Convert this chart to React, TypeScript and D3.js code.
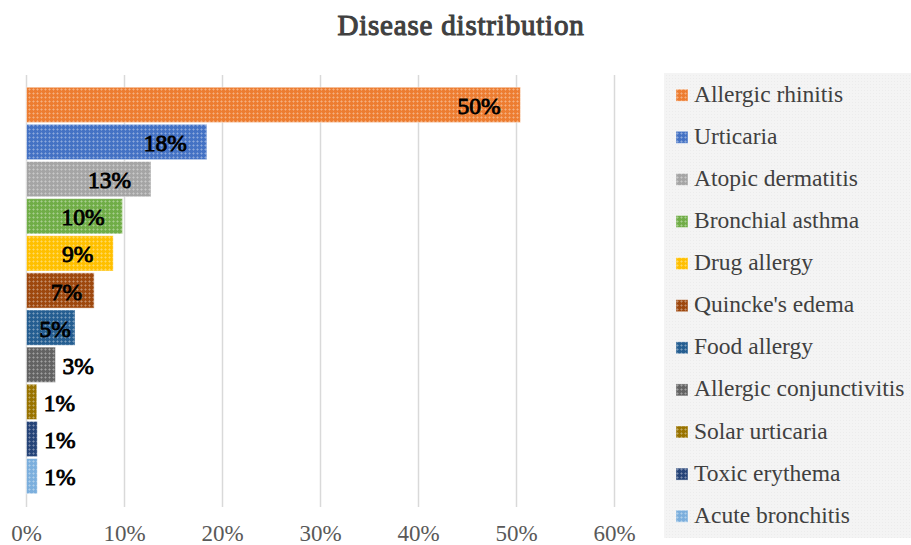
import React from "react";
import * as d3 from "d3";

const categories = [
  "Allergic rhinitis",
  "Urticaria",
  "Atopic dermatitis",
  "Bronchial asthma",
  "Drug allergy",
  "Quincke's edema",
  "Food allergy",
  "Allergic conjunctivitis",
  "Solar urticaria",
  "Toxic erythema",
  "Acute bronchitis",
];
const values = [50.4, 18.4, 12.7, 9.8, 8.85, 6.9, 4.95, 2.95, 1.05, 1.1, 1.1];
const colors = [
  "#ED7D31",
  "#4472C4",
  "#A5A5A5",
  "#70AD47",
  "#FFC000",
  "#9E480E",
  "#255E91",
  "#636363",
  "#997300",
  "#264478",
  "#7CAFDD",
];
const ticks = [0, 10, 20, 30, 40, 50, 60];
const title = "Disease distribution";

const W = 911;
const H = 545;
const FONT = "'Liberation Serif', serif";

export default function App() {
  const x = d3.scaleLinear().domain([0, 60]).range([26.5, 614.5]);
  const y = d3
    .scaleBand<string>()
    .domain(categories)
    .range([86.5, 494.5])
    .paddingInner(0.05)
    .paddingOuter(0.02);
  const gridTop = 75;
  const gridBottom = 507;
  const labelSize = 23.5;
  const legendY0 = 101.7;
  const legendStep = 42.1;

  return (
    <svg
      width={W}
      height={H}
      style={{ position: "absolute", left: 0, top: 0, background: "#fff" }}
      fontFamily={FONT}
    >
      <defs>
        {colors.map((c, i) => (
          <pattern
            key={i}
            id={`pat${i}`}
            width={4}
            height={4}
            patternUnits="userSpaceOnUse"
          >
            <rect width={4} height={4} fill={c} />
            <rect x={1} y={0} width={1} height={3} fill="#fff" opacity={0.22} />
            <rect x={0} y={1} width={3} height={1} fill="#fff" opacity={0.22} />
          </pattern>
        ))}
        <pattern id="legpat" width={3} height={3} patternUnits="userSpaceOnUse">
          <rect width={3} height={3} fill="#f4f4f4" />
          <rect x={0} y={0} width={1} height={1} fill="#ececec" />
        </pattern>
      </defs>
      <rect width={W} height={H} fill="#fff" />
      <text
        x={461}
        y={35}
        textAnchor="middle"
        fontSize={29}
        letterSpacing={0.8}
        fill="#404040"
        stroke="#404040"
        strokeWidth={1.1}
      >
        {title}
      </text>

      {ticks.map((t) => (
        <g key={t}>
          <line
            x1={x(t)}
            x2={x(t)}
            y1={gridTop}
            y2={gridBottom}
            stroke="#d9d9d9"
            strokeWidth={1.5}
          />
          <text
            x={x(t)}
            y={541}
            textAnchor="middle"
            fontSize={23}
            fill="#595959"
          >
            {t}%
          </text>
        </g>
      ))}

      {categories.map((c, i) => {
        const v = values[i];
        const x0 = x(0);
        const x1 = x(v);
        const w = x1 - x0;
        const by = y(c)!;
        const bh = y.bandwidth();
        const label = `${Math.round(v)}%`;
        const tw = (label.length - 1) * 0.5 * labelSize + labelSize;
        let lx: number;
        let anchor: "middle" | "start" = "middle";
        if (w < 40) {
          lx = x1 + 7;
          anchor = "start";
        } else {
          lx = Math.max(x0 + 0.59 * w, x1 - 18 - tw / 2);
        }
        return (
          <g key={c}>
            <rect
              x={x0}
              y={by}
              width={w}
              height={bh}
              fill={`url(#pat${i})`}
              stroke="#ffffff"
              strokeOpacity={0.45}
              strokeWidth={1}
            />
            <text
              x={lx}
              y={by + bh / 2 + 9}
              textAnchor={anchor}
              fontSize={labelSize}
              fill="#000"
              stroke="#000"
              strokeWidth={0.9}
            >
              {label}
            </text>
          </g>
        );
      })}

      <rect x={664} y={73} width={W - 664} height={465} fill="url(#legpat)" />
      {categories.map((c, i) => {
        const ly = legendY0 + i * legendStep;
        return (
          <g key={c}>
            <rect
              x={676}
              y={ly - 12.5}
              width={12}
              height={12}
              fill={`url(#pat${i})`}
              stroke="#fff"
              strokeOpacity={0.4}
            />
            <text x={694} y={ly} fontSize={23.5} fill="#404040">
              {c}
            </text>
          </g>
        );
      })}
    </svg>
  );
}
